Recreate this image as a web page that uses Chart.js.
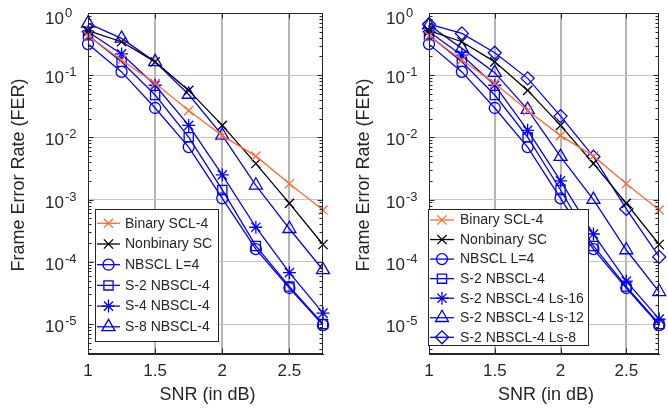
<!DOCTYPE html>
<html>
<head>
<meta charset="utf-8">
<script src="https://cdn.jsdelivr.net/npm/chart.js@4/dist/chart.umd.min.js"></script>
<style>
html, body { margin: 0; padding: 0; background: #fff; }
#wrap { position: relative; width: 668px; height: 418px; }
canvas { position: absolute; top: 0; }
</style>
</head>
<body>
<div id="wrap">
  <canvas id="left" width="334" height="418" style="left:0"></canvas>
  <canvas id="right" width="334" height="418" style="left:334px"></canvas>
</div>
<script>
// SNR points (dB)
const snr = [1, 1.25, 1.5, 1.75, 2, 2.25, 2.5, 2.75];
const xTicks = [1, 1.5, 2, 2.5];
const yDecades = [0, -1, -2, -3, -4, -5];

// FER curves
const binaryScl4 = [0.43, 0.175, 0.074, 0.027, 0.0107, 0.005, 0.0018, 0.00068];
const nonbinarySc = [0.52, 0.345, 0.164, 0.057, 0.0156, 0.0038, 0.00087, 0.00019];
const nbsclL4 = [0.316, 0.113, 0.0297, 0.007, 0.00105, 0.00016, 0.000038, 0.0000096];
const s2Nbscl4 = [0.44, 0.164, 0.048, 0.0101, 0.00143, 0.00018, 0.00004, 0.00001];
const s4Nbscl4 = [0.5, 0.22, 0.069, 0.0156, 0.0025, 0.00036, 0.000067, 0.000015];
const s8Nbscl4 = [0.68, 0.39, 0.164, 0.049, 0.0108, 0.0017, 0.00034, 0.000074];
const s2Ls16 = [0.5, 0.21, 0.069, 0.013, 0.002, 0.00028, 0.000049, 0.000012];
const s2Ls12 = [0.64, 0.27, 0.11, 0.028, 0.0049, 0.001, 0.000155, 0.000033];
const s2Ls8 = [0.66, 0.47, 0.23, 0.089, 0.022, 0.0049, 0.00071, 0.00012];

const ORANGE = '#ff6a2e';
const BLUE = '#0000ff';
const TEXT = '#262626';
const FONT = '"Liberation Sans", Arial, sans-serif';
const LW = 1.3;

Chart.defaults.font.family = FONT;
Chart.defaults.color = TEXT;

function series(label, data, color, style, radius) {
    return {
        label: label,
        data: data.map((v, i) => ({ x: snr[i], y: v })),
        borderColor: color,
        backgroundColor: 'rgba(0,0,0,0)',
        borderWidth: LW,
        pointStyle: style,
        pointRadius: radius,
        pointBorderWidth: LW,
        pointBackgroundColor: 'rgba(0,0,0,0)',
        pointBorderColor: color,
        tension: 0,
        clip: false
    };
}

/**
 * Box, inner ticks, superscript tick labels, axis titles and legend
 */
function framePlugin(cfg) {
    return {
        id: 'frame',
        afterDraw(chart) {
            const ctx = chart.ctx;
            const a = chart.chartArea;
            const ys = chart.scales.y;
            const xs = chart.scales.x;
            const L = Math.round(a.left) + 0.5, R = Math.round(a.right) - 0.5;
            const T = Math.round(a.top) + 0.5, B = Math.round(a.bottom) - 0.5;
            ctx.save();
            ctx.strokeStyle = TEXT;
            ctx.lineWidth = 1;
            ctx.beginPath();

            // y ticks, major and minor, on both sides
            for (let e = -6; e <= 0; e++) {
                for (let m = 1; m <= 9; m++) {
                    const v = m * Math.pow(10, e);
                    if (v < ys.min || v > ys.max) continue;
                    const py = Math.round(ys.getPixelForValue(v)) + 0.5;
                    const len = m === 1 ? 5 : 3;
                    ctx.moveTo(L, py); ctx.lineTo(L + len, py);
                    ctx.moveTo(R, py); ctx.lineTo(R - len, py);
                }
            }
            // x ticks on bottom and top
            xTicks.forEach(v => {
                const px = Math.round(xs.getPixelForValue(v)) + 0.5;
                ctx.moveTo(px, B); ctx.lineTo(px, B - 5);
                ctx.moveTo(px, T); ctx.lineTo(px, T + 5);
            });
            ctx.stroke();
            ctx.strokeRect(L, T, R - L, B - T);

            // y tick labels 10^n
            ctx.fillStyle = TEXT;
            yDecades.forEach(e => {
                const py = Math.max(ys.getPixelForValue(Math.pow(10, e)), 16);
                ctx.font = '17px ' + FONT;
                ctx.textAlign = 'right';
                ctx.textBaseline = 'alphabetic';
                ctx.fillText('10', a.left - 24, py + 8);
                ctx.font = '13px ' + FONT;
                ctx.textAlign = 'left';
                ctx.fillText(e === 0 ? '0' : '-' + (-e), a.left - 23, py + 1);
            });

            // axis titles
            ctx.font = '18px ' + FONT;
            ctx.textAlign = 'center';
            ctx.textBaseline = 'middle';
            ctx.fillText('SNR (in dB)', (a.left + a.right) / 2 + 2, 395);
            ctx.save();
            ctx.translate(cfg.titleX, 175);
            ctx.rotate(-Math.PI / 2);
            ctx.textBaseline = 'alphabetic';
            ctx.fillText('Frame Error Rate (FER)', 0, 0);
            ctx.restore();

            // legend
            const lg = cfg.legend;
            ctx.fillStyle = '#ffffff';
            ctx.fillRect(lg.x0, lg.y0, lg.x1 - lg.x0, lg.y1 - lg.y0);
            ctx.strokeStyle = TEXT;
            ctx.lineWidth = 1;
            ctx.strokeRect(lg.x0 + 0.5, lg.y0 + 0.5, lg.x1 - lg.x0, lg.y1 - lg.y0);
            ctx.font = '14px ' + FONT;
            ctx.textAlign = 'left';
            ctx.textBaseline = 'middle';
            chart.data.datasets.forEach((ds, i) => {
                const yy = lg.first + i * lg.step;
                ctx.strokeStyle = ds.borderColor;
                ctx.lineWidth = LW;
                ctx.beginPath();
                ctx.moveTo(lg.lineX0, yy); ctx.lineTo(lg.lineX1, yy);
                ctx.stroke();
                ctx.fillStyle = 'rgba(0,0,0,0)';
                Chart.helpers.drawPoint(ctx, {
                    pointStyle: ds.pointStyle,
                    radius: ds.pointRadius,
                    rotation: 0,
                    borderWidth: LW
                }, (lg.lineX0 + lg.lineX1) / 2, yy);
                ctx.fillStyle = TEXT;
                ctx.fillText(ds.label, lg.textX, yy + 0.5);
            });
            ctx.restore();
        }
    };
}

function makeChart(id, datasets, cfg) {
    return new Chart(document.getElementById(id), {
        type: 'line',
        data: { datasets: datasets },
        options: {
            responsive: false,
            animation: false,
            devicePixelRatio: 1,
            layout: { padding: { top: 13, right: cfg.padRight, left: 0, bottom: 0 } },
            plugins: { legend: { display: false }, tooltip: { enabled: false } },
            scales: {
                x: {
                    type: 'linear',
                    min: 1,
                    max: 2.75,
                    afterBuildTicks: s => { s.ticks = xTicks.map(v => ({ value: v })); },
                    afterFit: s => { s.height = 64; },
                    grid: {
                        drawTicks: false,
                        color: c => (c.tick && c.tick.value === 1) ? 'rgba(0,0,0,0)' : '#b4b4b4',
                        lineWidth: 2
                    },
                    border: { display: true, color: TEXT, width: 1 },
                    ticks: {
                        font: { size: 17 },
                        color: TEXT,
                        padding: 7,
                        maxRotation: 0,
                        callback: v => String(v)
                    }
                },
                y: {
                    type: 'logarithmic',
                    min: 3.3e-6,
                    max: 1,
                    afterBuildTicks: s => { s.ticks = yDecades.map(e => ({ value: Math.pow(10, e) })); },
                    afterFit: s => { s.width = cfg.left; },
                    grid: { drawTicks: false, color: '#c4c4c4', lineWidth: 1 },
                    border: { display: true, color: TEXT, width: 1 },
                    ticks: { display: false }
                }
            }
        },
        plugins: [framePlugin(cfg)]
    });
}

makeChart('left', [
    series('Binary SCL-4', binaryScl4, ORANGE, 'crossRot', 6.5),
    series('Nonbinary SC', nonbinarySc, '#000000', 'crossRot', 6.5),
    series('NBSCL L=4', nbsclL4, BLUE, 'circle', 5.5),
    series('S-2 NBSCL-4', s2Nbscl4, BLUE, 'rect', 6.5),
    series('S-4 NBSCL-4', s4Nbscl4, BLUE, 'star', 6.5),
    series('S-8 NBSCL-4', s8Nbscl4, BLUE, 'triangle', 7.5)
], {
    left: 88, padRight: 11, titleX: 24,
    legend: { x0: 95, y0: 209, x1: 218, y1: 341, first: 223.3, step: 20.7, lineX0: 97, lineX1: 120, textX: 125 }
});

makeChart('right', [
    series('Binary SCL-4', binaryScl4, ORANGE, 'crossRot', 6.5),
    series('Nonbinary SC', nonbinarySc, '#000000', 'crossRot', 6.5),
    series('NBSCL L=4', nbsclL4, BLUE, 'circle', 5.5),
    series('S-2 NBSCL-4', s2Nbscl4, BLUE, 'rect', 6.5),
    series('S-2 NBSCL-4 Ls-16', s2Ls16, BLUE, 'star', 6.5),
    series('S-2 NBSCL-4 Ls-12', s2Ls12, BLUE, 'triangle', 7.5),
    series('S-2 NBSCL-4 Ls-8', s2Ls8, BLUE, 'rectRot', 6.5)
], {
    left: 95, padRight: 4, titleX: 35,
    legend: { x0: 94, y0: 209, x1: 254, y1: 345, first: 220, step: 19.55, lineX0: 96, lineX1: 120, textX: 126 }
});
</script>
</body>
</html>
